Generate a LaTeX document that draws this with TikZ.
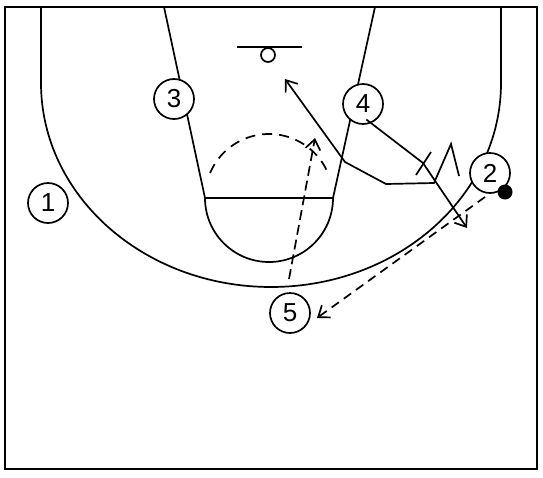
\documentclass[tikz,border=0pt]{standalone}
\usepackage{fontspec}
\setmainfont{Liberation Sans}
\usetikzlibrary{arrows.meta}
\begin{document}
\begin{tikzpicture}[x=1pt,y=-1pt,
  court/.style={line width=1.7pt},
  player/.style={circle,draw,line width=1.7pt,fill=white,minimum size=40pt,inner sep=0pt,font=\fontsize{26}{26}\selectfont},
  move/.style={line width=1.7pt,-{Straight Barb[length=10pt,width=15pt,line width=1.7pt]}},
  dashmove/.style={move,dash pattern=on 9pt off 6pt},
  ball/.style={circle,fill=black,minimum size=15pt,inner sep=0pt},
]
\useasboundingbox (0,0) rectangle (543,477);
% court
\draw[line width=2.4pt] (5,7) rectangle (537,469);
\draw[court] (41,7) -- (41,83) arc[start angle=180,end angle=0,x radius=230,y radius=204] -- (501,7);
\draw[court] (164,7) -- (205,198) -- (333,198) -- (375,7);
\draw[court] (205,198) arc[start angle=180,end angle=0,radius=64];
\draw[court,dash pattern=on 10pt off 7pt] (269,198) ++(203:64) arc[start angle=203,end angle=337,radius=64];
\draw[court] (237,47) -- (302,47);
\draw[court] (268,55) circle[radius=7];
% players
\node[player] (p1) at (48,203) {1};
\node[player] (p3) at (174,99) {3};
\node[player] (p4) at (363,104) {4};
\node[player] (p2) at (490,173) {2};
\node[player] (p5) at (290,313) {5};
\node[ball] (b) at (505,192) {};
% coordinates
\coordinate (scr) at (423,163);
\coordinate (roll) at (467,228);
\coordinate (z0) at (459,176);
\coordinate (z1) at (451,144);
\coordinate (z2) at (434,183);
\coordinate (z3) at (386,184);
\coordinate (z4) at (345,162);
\coordinate (rim) at (285,79);
\coordinate (passS) at (485,197);
\coordinate (passE) at (317,318);
\coordinate (cutS) at (289,279);
\coordinate (cutE) at (315,138);
% screen and roll
\draw[move,shorten <=-6pt] (p4.-67) -- (scr) -- (roll);
\draw[court] (416,175) -- (431,152);
% cut to basket
\draw[move] (z0) -- (z1) -- (z2) -- (z3) -- (z4) -- (rim);
% pass
\draw[dashmove] (passS) -- (passE);
% 5 cut
\draw[move,dash pattern=on 10pt off 5pt] (cutS) -- (cutE);
\end{tikzpicture}
\end{document}
